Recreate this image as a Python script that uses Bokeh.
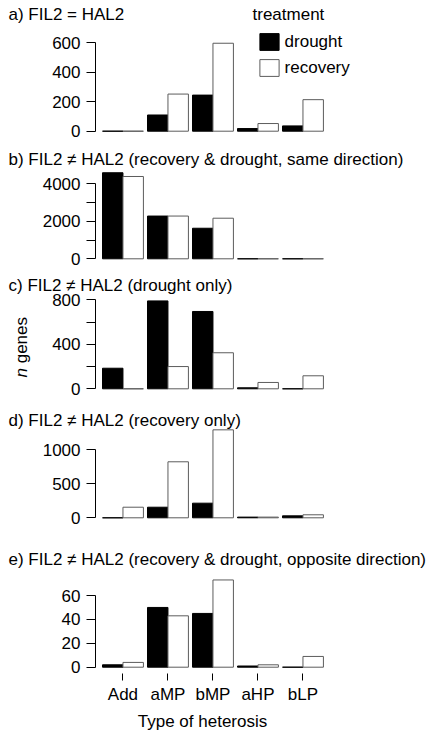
import math

from bokeh.embed import file_html
from bokeh.layouts import column
from bokeh.models import (ColumnDataSource, FixedTicker, Label, Legend,
                          LegendItem, Range1d)
from bokeh.plotting import figure
from bokeh.resources import INLINE

# ---------------------------------------------------------------------------
# Data: number of genes per heterosis class, for the two treatments
# ---------------------------------------------------------------------------
heterosis = ["Add", "aMP", "bMP", "aHP", "bLP"]
treatments = ["drought", "recovery"]

equal_drought = [0, 110, 245, 18, 36]
equal_recovery = [0, 252, 597, 52, 214]

same_dir_drought = [4590, 2280, 1630, 0, 0]
same_dir_recovery = [4390, 2280, 2165, 0, 0]

drought_only_drought = [185, 790, 695, 9, 0]
drought_only_recovery = [0, 200, 324, 57, 117]

recovery_only_drought = [0, 155, 214, 10, 29]
recovery_only_recovery = [155, 820, 1288, 10, 44]

opposite_drought = [2, 50, 45, 1, 0]
opposite_recovery = [4, 43, 73, 2, 9]

panel_titles = [
    "a) FIL2 = HAL2",
    "b) FIL2 \u2260 HAL2 (recovery & drought, same direction)",
    "c) FIL2 \u2260 HAL2 (drought only)",
    "d) FIL2 \u2260 HAL2 (recovery only)",
    "e) FIL2 \u2260 HAL2 (recovery & drought, opposite direction)",
]
y_ticks = [
    [0, 200, 400, 600],
    [0, 1000, 2000, 3000, 4000],
    [0, 200, 400, 600, 800],
    [0, 500, 1000],
    [0, 20, 40, 60],
]
unlabelled_ticks = [[], [1000, 3000], [200, 600], [], []]
legend_title = "treatment"
y_axis_label = "genes"
x_axis_label = "Type of heterosis"

# ---------------------------------------------------------------------------
# Layout / style
# ---------------------------------------------------------------------------
FONT = "Liberation Sans"
FS_PX = 17
FS = f"{FS_PX}px"
W = 427
AXIS_PX = 95                        # x position of the count axis (px)
BAR_UNITS, GAP_UNITS = 5, 1         # bar width and gap between groups
GROUP_UNITS = 2 * BAR_UNITS + GAP_UNITS
PX_PER_X = 45.0 / GROUP_UNITS       # horizontal pixels per x unit
FIRST_BAR_PX = 102.0
X_START = (0 - FIRST_BAR_PX) / PX_PER_X
X_END = (W - FIRST_BAR_PX) / PX_PER_X
OUTLINE_GREY = "#5c5c5c"

# per panel: page top, height, zero line (local px), pixels per count,
# title centre (local px)
geometry = [
    dict(top=0, height=140, zero=130.7, ppu=88.4 / 600, ty=14),
    dict(top=140, height=130, zero=118.3, ppu=75.0 / 4000, ty=19),
    dict(top=270, height=130, zero=118.3, ppu=89.0 / 800, ty=15),
    dict(top=400, height=130, zero=117.3, ppu=68.3 / 1000, ty=20),
    dict(top=530, height=201, zero=136.7, ppu=71.7 / 60, ty=29),
]

series = [
    (equal_drought, equal_recovery),
    (same_dir_drought, same_dir_recovery),
    (drought_only_drought, drought_only_recovery),
    (recovery_only_drought, recovery_only_recovery),
    (opposite_drought, opposite_recovery),
]

group_centres = [GROUP_UNITS * i + BAR_UNITS for i in range(len(heterosis))]


def px_to_x(px):
    return (px - FIRST_BAR_PX) / PX_PER_X


def py_to_y(g, py):
    return (g["zero"] - py) / g["ppu"]


def text_label(p, g, px, py, text, **kw):
    """Place a text annotation at a pixel position of the panel."""
    opts = dict(text_font=FONT, text_font_size=FS, text_color="black",
                text_baseline="middle", text_align="left")
    opts.update(kw)
    lab = Label(x=px_to_x(px), y=py_to_y(g, py), text=text, **opts)
    p.add_layout(lab)
    return lab


figs = []
for k, (g, (dro, rec)) in enumerate(zip(geometry, series)):
    last = k == len(geometry) - 1
    p = figure(
        width=W, height=g["height"],
        x_range=Range1d(X_START, X_END),
        y_range=Range1d(py_to_y(g, g["height"]), py_to_y(g, 0)),
        output_backend="svg", toolbar_location=None,
        x_axis_location="below" if last else None,
        min_border_left=0, min_border_right=0,
        min_border_top=0, min_border_bottom=0,
        outline_line_color=None, background_fill_color="white",
        border_fill_color="white",
    )
    p.grid.grid_line_color = None

    src = ColumnDataSource(dict(
        xd=[GROUP_UNITS * i + BAR_UNITS / 2 for i in range(len(heterosis))],
        xr=[GROUP_UNITS * i + 1.5 * BAR_UNITS for i in range(len(heterosis))],
        drought=dro, recovery=rec,
    ))
    rd = p.vbar(x="xd", top="drought", bottom=0, width=BAR_UNITS, source=src,
                fill_color="black", line_color="black", line_width=1)
    rr = p.vbar(x="xr", top="recovery", bottom=0, width=BAR_UNITS, source=src,
                fill_color="white", line_color=OUTLINE_GREY, line_width=1)

    # count axis: drawn left of the bars, line only spans the tick range
    ya = p.yaxis[0]
    ya.fixed_location = px_to_x(AXIS_PX)
    ya.ticker = FixedTicker(ticks=y_ticks[k])
    ya.bounds = (y_ticks[k][0], y_ticks[k][-1])
    ya.major_label_overrides = {t: "" for t in unlabelled_ticks[k]}
    ya.formatter.use_scientific = False
    ya.axis_line_color = "black"
    ya.major_tick_line_color = "black"
    ya.major_tick_out = 9
    ya.major_tick_in = 0
    ya.minor_tick_line_color = None
    ya.major_label_standoff = 6
    ya.major_label_text_font = FONT
    ya.major_label_text_font_size = FS
    ya.major_label_text_color = "black"

    if last:
        xa = p.xaxis[0]
        xa.fixed_location = py_to_y(g, 672.7 - g["top"])
        xa.ticker = FixedTicker(ticks=group_centres)
        xa.major_label_overrides = {c: n for c, n in zip(group_centres, heterosis)}
        xa.axis_line_color = None
        xa.major_tick_line_color = "black"
        xa.major_tick_out = 7
        xa.major_tick_in = 0
        xa.minor_tick_line_color = None
        xa.major_label_standoff = 5
        xa.major_label_text_font = FONT
        xa.major_label_text_font_size = FS
        xa.major_label_text_color = "black"
        text_label(p, g, 202, 720.7 - g["top"], x_axis_label, text_align="center")

    # panel title
    text_label(p, g, 8, g["ty"], panel_titles[k])

    if k == 0:
        text_label(p, g, 252, 14, legend_title)
        legend = Legend(
            items=[LegendItem(label=treatments[0], renderers=[rd]),
                   LegendItem(label=treatments[1], renderers=[rr])],
            location=(256.6, g["height"] - 78), orientation="vertical",
            glyph_width=24, glyph_height=21, label_height=21,
            spacing=5, padding=0, margin=0, label_standoff=4,
            label_text_font=FONT, label_text_font_size=FS,
            label_text_color="black",
            border_line_color=None, background_fill_alpha=0,
        )
        p.add_layout(legend)

    if k == 2:
        # rotated "n genes" label with italic n
        n_start = 377
        text_label(p, g, 21, n_start - g["top"], "n", angle=math.pi / 2,
                   text_font_style="italic")
        text_label(p, g, 21, n_start - 0.834 * FS_PX - g["top"], y_axis_label,
                   angle=math.pi / 2)

    figs.append(p)

layout = column(*figs, spacing=0)
open("out.html", "w").write(file_html(layout, INLINE))
